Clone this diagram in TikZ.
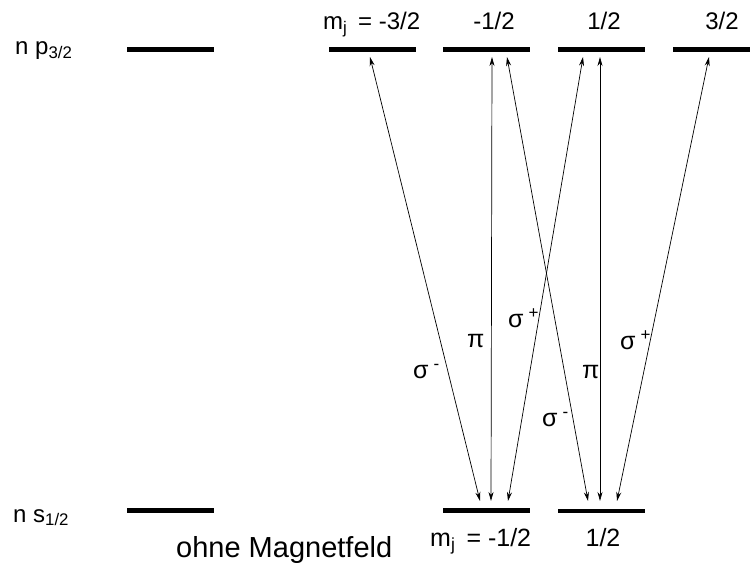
\documentclass[tikz,border=0pt]{standalone}
\usepackage{fontspec}
\setmainfont{Liberation Sans}
\usetikzlibrary{arrows.meta}
\begin{document}
\begin{tikzpicture}[x=1pt,y=-1pt,
  level/.style={fill=black,minimum width=87pt,minimum height=4.5pt,inner sep=0pt},
  trans/.style={{Stealth[length=9pt,width=5pt]}-{Stealth[length=9pt,width=5pt]},line width=0.7pt},
  mjlbl/.style={font=\fontsize{24}{26}\selectfont,inner sep=0pt},
  sublbl/.style={font=\fontsize{24}{26}\selectfont,inner sep=0pt,anchor=base west},
  greek/.style={font=\fontsize{25}{27}\selectfont,inner sep=0pt,anchor=base west}]
  \useasboundingbox (0,0) rectangle (750,567);

  \node[level] (p0)  at (170,49.5) {};
  \node[level] (pm3) at (372.5,49.5) {};
  \node[level] (pm1) at (486.5,49.5) {};
  \node[level] (pp1) at (601.5,49.5) {};
  \node[level] (pp3) at (716.5,49.5) {};

  \node[level] (s0)  at (170,510.5) {};
  \node[level] (sm1) at (486.5,510.5) {};
  \node[level] (sp1) at (601.5,511) {};

  \node[sublbl] (lp) at (15,55) {n p\textsubscript{3/2}};
  \node[sublbl] (ls) at (13,522) {n s\textsubscript{1/2}};
  \node[font=\fontsize{29}{31}\selectfont,inner sep=0pt,anchor=base west] (lohne) at (176,557) {ohne Magnetfeld};

  \node[mjlbl,anchor=base west] (tm3) at (323,30) {m\textsubscript{j} \,= -3/2};
  \node[mjlbl,anchor=base] (tm1) at (494,30) {-1/2};
  \node[mjlbl,anchor=base] (tp1) at (604,30) {1/2};
  \node[mjlbl,anchor=base] (tp3) at (722,30) {3/2};
  \node[mjlbl,font=\fontsize{25}{27}\selectfont,anchor=base west] (bm1) at (430,546) {m\textsubscript{j} \,= -1/2};
  \node[mjlbl,font=\fontsize{25}{27}\selectfont,anchor=base] (bp1) at (603,546) {1/2};

  \draw[trans] ([xshift=-6.5pt,yshift=9.5pt]sm1.center) -- ([xshift=-2.5pt,yshift=-7.5pt]pm3.center);
  \draw[trans] ([xshift=4.5pt,yshift=9.5pt]sm1.center) -- ([xshift=5.5pt,yshift=-7.5pt]pm1.center);
  \draw[trans] ([xshift=21.5pt,yshift=9.5pt]sm1.center) -- ([xshift=-18.5pt,yshift=-7.5pt]pp1.center);
  \draw[trans] ([xshift=-13.5pt,yshift=10pt]sp1.center) -- ([xshift=20.5pt,yshift=-7.5pt]pm1.center);
  \draw[trans] ([xshift=-1.5pt,yshift=10pt]sp1.center) -- ([xshift=-1.5pt,yshift=-7.5pt]pp1.center);
  \draw[trans] ([xshift=15.5pt,yshift=10pt]sp1.center) -- ([xshift=-7.5pt,yshift=-7.5pt]pp3.center);

  \node[greek] (sm1l) at (413,378) {σ\hspace{5pt}\raisebox{9pt}{\fontsize{17}{17}\selectfont -}};
  \node[greek] (pi1l) at (467,347) {π};
  \node[greek] (sp1l) at (508,327) {σ\hspace{5pt}\raisebox{9pt}{\fontsize{17}{17}\selectfont +}};
  \node[greek] (pi2l) at (582,378) {π};
  \node[greek] (sm2l) at (542,426) {σ\hspace{5pt}\raisebox{9pt}{\fontsize{17}{17}\selectfont -}};
  \node[greek] (sp2l) at (620,349) {σ\hspace{5pt}\raisebox{9pt}{\fontsize{17}{17}\selectfont +}};
\end{tikzpicture}
\end{document}
